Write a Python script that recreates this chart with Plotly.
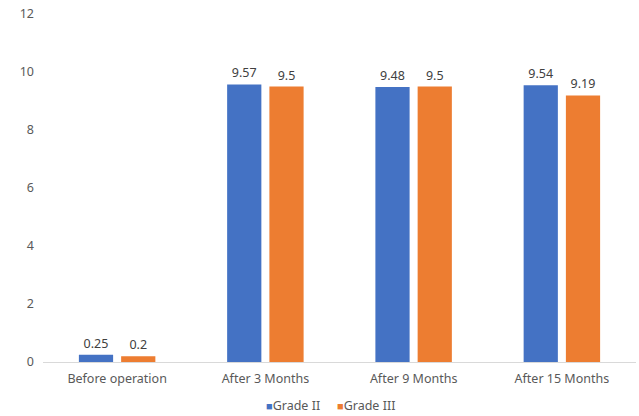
import plotly.graph_objects as go

categories = ["Before operation", "After 3 Months", "After 9 Months", "After 15 Months"]
grade2 = [0.25, 9.57, 9.48, 9.54]
grade3 = [0.2, 9.5, 9.5, 9.19]
grade2_labels = ["0.25", "9.57", "9.48", "9.54"]
grade3_labels = ["0.2", "9.5", "9.5", "9.19"]
series_names = ["Grade II", "Grade III"]
series_colors = ["#4472C4", "#ED7D31"]

FONT = "Noto Sans"
fig = go.Figure()
for vals, labels, name, color in [(grade2, grade2_labels, series_names[0], series_colors[0]),
                                  (grade3, grade3_labels, series_names[1], series_colors[1])]:
    fig.add_trace(go.Bar(x=categories, y=vals, name=name, marker_color=color,
                         marker_line_width=0, text=labels, textposition="outside",
                         textfont=dict(size=12.5, color="#404040", family=FONT),
                         cliponaxis=False, showlegend=False))

legend_x = [0.372, 0.492]
for n, c, lx in zip(series_names, series_colors, legend_x):
    fig.add_annotation(text=f"<span style='color:{c};font-size:11px'>■</span>{n}",
                       xref="paper", yref="paper", x=lx, y=-0.126,
                       xanchor="left", yanchor="middle", showarrow=False,
                       font=dict(family=FONT, size=12.5, color="#595959"))

fig.update_layout(
    width=639, height=416,
    margin=dict(l=43, r=3, t=14, b=54, autoexpand=False),
    paper_bgcolor="white", plot_bgcolor="white",
    barmode="group", bargap=0.43, bargroupgap=0.19,
    font=dict(family=FONT, size=12.5, color="#595959"),
    showlegend=False,
)
fig.update_xaxes(showline=True, linecolor="#D9D9D9", linewidth=1, ticks="",
                 tickfont=dict(size=12.5, color="#595959"), showgrid=False, automargin=False,
                 ticklabelstandoff=5)
fig.update_yaxes(range=[0, 12], dtick=2, showgrid=False, zeroline=False, showline=False,
                 tickfont=dict(size=12.5, color="#595959"), ticks="", ticklabelstandoff=8,
                 automargin=False)

fig.write_html("out.html")
